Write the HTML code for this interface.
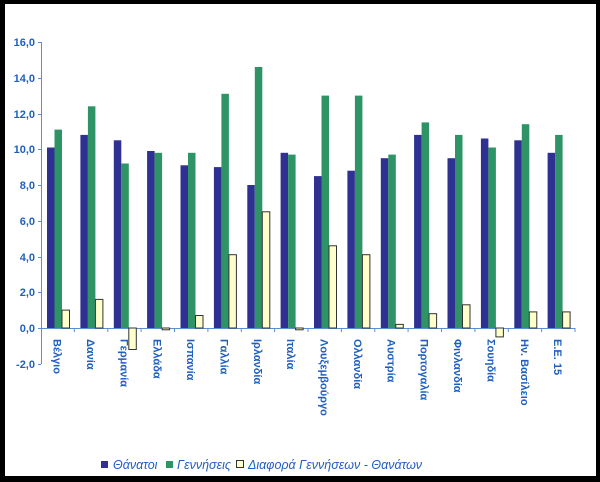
<!DOCTYPE html>
<html><head><meta charset="utf-8"><style>
html,body{margin:0;padding:0;background:#000;}
svg{display:block;}
</style></head><body>
<svg width="600" height="482" xmlns="http://www.w3.org/2000/svg" font-family="Liberation Sans, sans-serif">
<rect x="0" y="0" width="600" height="482" fill="#000"/>
<rect x="5" y="4" width="591" height="472" fill="#fff"/>
<g fill="#1f5fbf" font-size="11" font-weight="bold" text-anchor="end">
<text x="35" y="46">16,0</text><text x="35" y="82">14,0</text><text x="35" y="118">12,0</text>
<text x="35" y="153">10,0</text><text x="35" y="189">8,0</text><text x="35" y="225">6,0</text>
<text x="35" y="261">4,0</text><text x="35" y="296">2,0</text><text x="35" y="332">0,0</text>
<text x="35" y="368">-2,0</text>
</g>
<g stroke="#5b8fd0" stroke-width="1">
<line x1="41.5" y1="42" x2="41.5" y2="364"/>
<line x1="38" y1="42.5" x2="41" y2="42.5"/><line x1="38" y1="78.5" x2="41" y2="78.5"/><line x1="38" y1="114.5" x2="41" y2="114.5"/><line x1="38" y1="149.5" x2="41" y2="149.5"/><line x1="38" y1="185.5" x2="41" y2="185.5"/><line x1="38" y1="221.5" x2="41" y2="221.5"/><line x1="38" y1="257.5" x2="41" y2="257.5"/><line x1="38" y1="292.5" x2="41" y2="292.5"/><line x1="38" y1="328.5" x2="41" y2="328.5"/><line x1="38" y1="364.5" x2="41" y2="364.5"/>
<line x1="41" y1="328.5" x2="575" y2="328.5"/>
</g>
<g stroke="#5b8fd0">
<line x1="74.4" y1="328" x2="74.4" y2="332"/><line x1="107.8" y1="328" x2="107.8" y2="332"/><line x1="141.1" y1="328" x2="141.1" y2="332"/><line x1="174.5" y1="328" x2="174.5" y2="332"/><line x1="207.9" y1="328" x2="207.9" y2="332"/><line x1="241.3" y1="328" x2="241.3" y2="332"/><line x1="274.6" y1="328" x2="274.6" y2="332"/><line x1="308" y1="328" x2="308" y2="332"/><line x1="341.4" y1="328" x2="341.4" y2="332"/><line x1="374.8" y1="328" x2="374.8" y2="332"/><line x1="408.1" y1="328" x2="408.1" y2="332"/><line x1="441.5" y1="328" x2="441.5" y2="332"/><line x1="474.9" y1="328" x2="474.9" y2="332"/><line x1="508.3" y1="328" x2="508.3" y2="332"/><line x1="541.6" y1="328" x2="541.6" y2="332"/><line x1="575" y1="328" x2="575" y2="332"/>
</g>
<defs>
<style>.b{fill:#2e3192}.g{fill:#2e9466}.y{fill:#ffffcc;stroke:#333;stroke-width:1}</style>
</defs>
<g transform="translate(41,0)"><rect class="b" x="6" y="147.5" width="7.5" height="180.5"/><rect class="g" x="13.5" y="129.6" width="7.5" height="198.4"/><rect class="y" x="21" y="310.1" width="7.5" height="17.9"/></g>
<g transform="translate(74.4,0)"><rect class="b" x="6" y="134.9" width="7.5" height="193.1"/><rect class="g" x="13.5" y="106.3" width="7.5" height="221.7"/><rect class="y" x="21" y="299.4" width="7.5" height="28.6"/></g>
<g transform="translate(107.8,0)"><rect class="b" x="6" y="140.3" width="7.5" height="187.7"/><rect class="g" x="13.5" y="163.5" width="7.5" height="164.5"/><rect class="y" x="21" y="328" width="7.5" height="21.5"/></g>
<g transform="translate(141.1,0)"><rect class="b" x="6" y="151" width="7.5" height="177"/><rect class="g" x="13.5" y="152.8" width="7.5" height="175.2"/><rect class="y" x="21" y="328" width="7.5" height="1.8"/></g>
<g transform="translate(174.5,0)"><rect class="b" x="6" y="165.3" width="7.5" height="162.7"/><rect class="g" x="13.5" y="152.8" width="7.5" height="175.2"/><rect class="y" x="21" y="315.5" width="7.5" height="12.5"/></g>
<g transform="translate(207.9,0)"><rect class="b" x="6" y="167.1" width="7.5" height="160.9"/><rect class="g" x="13.5" y="93.8" width="7.5" height="234.2"/><rect class="y" x="21" y="254.7" width="7.5" height="73.3"/></g>
<g transform="translate(241.3,0)"><rect class="b" x="6" y="185" width="7.5" height="143"/><rect class="g" x="13.5" y="67" width="7.5" height="261"/><rect class="y" x="21" y="211.8" width="7.5" height="116.2"/></g>
<g transform="translate(274.6,0)"><rect class="b" x="6" y="152.8" width="7.5" height="175.2"/><rect class="g" x="13.5" y="154.6" width="7.5" height="173.4"/><rect class="y" x="21" y="328" width="7.5" height="1.8"/></g>
<g transform="translate(308,0)"><rect class="b" x="6" y="176.1" width="7.5" height="151.9"/><rect class="g" x="13.5" y="95.6" width="7.5" height="232.4"/><rect class="y" x="21" y="245.8" width="7.5" height="82.2"/></g>
<g transform="translate(341.4,0)"><rect class="b" x="6" y="170.7" width="7.5" height="157.3"/><rect class="g" x="13.5" y="95.6" width="7.5" height="232.4"/><rect class="y" x="21" y="254.7" width="7.5" height="73.3"/></g>
<g transform="translate(374.8,0)"><rect class="b" x="6" y="158.2" width="7.5" height="169.8"/><rect class="g" x="13.5" y="154.6" width="7.5" height="173.4"/><rect class="y" x="21" y="324.4" width="7.5" height="3.6"/></g>
<g transform="translate(408.1,0)"><rect class="b" x="6" y="134.9" width="7.5" height="193.1"/><rect class="g" x="13.5" y="122.4" width="7.5" height="205.6"/><rect class="y" x="21" y="313.7" width="7.5" height="14.3"/></g>
<g transform="translate(441.5,0)"><rect class="b" x="6" y="158.2" width="7.5" height="169.8"/><rect class="g" x="13.5" y="134.9" width="7.5" height="193.1"/><rect class="y" x="21" y="304.8" width="7.5" height="23.2"/></g>
<g transform="translate(474.9,0)"><rect class="b" x="6" y="138.5" width="7.5" height="189.5"/><rect class="g" x="13.5" y="147.5" width="7.5" height="180.5"/><rect class="y" x="21" y="328" width="7.5" height="8.9"/></g>
<g transform="translate(508.3,0)"><rect class="b" x="6" y="140.3" width="7.5" height="187.7"/><rect class="g" x="13.5" y="124.2" width="7.5" height="203.8"/><rect class="y" x="21" y="311.9" width="7.5" height="16.1"/></g>
<g transform="translate(541.6,0)"><rect class="b" x="6" y="152.8" width="7.5" height="175.2"/><rect class="g" x="13.5" y="134.9" width="7.5" height="193.1"/><rect class="y" x="21" y="311.9" width="7.5" height="16.1"/></g>
<g fill="#1f5fbf" font-size="11" font-weight="bold">
<text transform="translate(53.5,339) rotate(90)">Βέλγιο</text>
<text transform="translate(86.9,339) rotate(90)">Δανία</text>
<text transform="translate(120.3,339) rotate(90)">Γερμανία</text>
<text transform="translate(153.6,339) rotate(90)">Ελλάδα</text>
<text transform="translate(187,339) rotate(90)">Ισπανία</text>
<text transform="translate(220.4,339) rotate(90)">Γαλλία</text>
<text transform="translate(253.8,339) rotate(90)">Ιρλανδία</text>
<text transform="translate(287.1,339) rotate(90)">Ιταλία</text>
<text transform="translate(320.5,339) rotate(90)">Λουξεμβούργο</text>
<text transform="translate(353.9,339) rotate(90)">Ολλανδία</text>
<text transform="translate(387.3,339) rotate(90)">Αυστρία</text>
<text transform="translate(420.6,339) rotate(90)">Πορτογαλία</text>
<text transform="translate(454,339) rotate(90)">Φινλανδία</text>
<text transform="translate(487.4,339) rotate(90)">Σουηδία</text>
<text transform="translate(520.8,339) rotate(90)">Ην. Βασίλειο</text>
<text transform="translate(554.1,339) rotate(90)">Ε.Ε. 15</text>
</g>
<rect x="101" y="461" width="7" height="7" fill="#2e3192"/>
<rect x="166" y="461" width="7" height="7" fill="#2e9466"/>
<rect x="236.5" y="460.5" width="7" height="7" fill="#ffffcc" stroke="#333"/>
<g fill="#1f5fbf" font-size="12.5" font-style="italic">
<text x="113" y="469">Θάνατοι</text>
<text x="177" y="469">Γεννήσεις</text>
<text x="248" y="469">Διαφορά Γεννήσεων - Θανάτων</text>
</g>
</svg>
</body></html>
